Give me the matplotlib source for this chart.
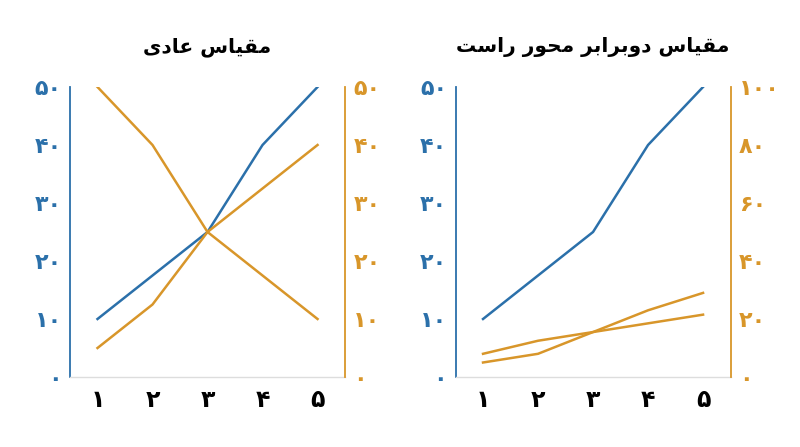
import matplotlib
matplotlib.use("Agg")
import matplotlib.pyplot as plt

x = [1, 2, 3, 4, 5]
blue = [10, 17.5, 25, 40, 50]
orange_down = [50, 40, 25, 17.5, 10]
orange_up = [5, 12.5, 25, 32.5, 40]
# right panel, orange on the 0-100 axis
orange_a = [5, 8, 15.5, 23, 29]
orange_b = [8, 12.5, 15.5, 18.5, 21.5]

left_ticks = [0, 10, 20, 30, 40, 50]
right_ticks_1 = [0, 10, 20, 30, 40, 50]
right_ticks_2 = [0, 20, 40, 60, 80, 100]

title_1 = "مقیاس عادی"
title_2 = "مقیاس دوبرابر محور راست"

BLUE = "#2b70aa"
ORANGE = "#d8962a"

# joined forms (isolated, final, initial, medial); 2-tuples join on the right only
FORMS = {
    "م": ("\uFEE1", "\uFEE2", "\uFEE3", "\uFEE4"),
    "ق": ("\uFED5", "\uFED6", "\uFED7", "\uFED8"),
    "ی": ("\uFBFC", "\uFBFD", "\uFBFE", "\uFBFF"),
    "س": ("\uFEB1", "\uFEB2", "\uFEB3", "\uFEB4"),
    "ع": ("\uFEC9", "\uFECA", "\uFECB", "\uFECC"),
    "ب": ("\uFE8F", "\uFE90", "\uFE91", "\uFE92"),
    "ح": ("\uFEA1", "\uFEA2", "\uFEA3", "\uFEA4"),
    "ت": ("\uFE95", "\uFE96", "\uFE97", "\uFE98"),
    "ا": ("\uFE8D", "\uFE8E"),
    "د": ("\uFEA9", "\uFEAA"),
    "و": ("\uFEED", "\uFEEE"),
    "ر": ("\uFEAD", "\uFEAE"),
}


def shape(text):
    out = []
    for i, ch in enumerate(text):
        if ch not in FORMS:
            out.append(ch)
            continue
        f = FORMS[ch]
        prev = text[i - 1] if i > 0 else " "
        nxt = text[i + 1] if i + 1 < len(text) else " "
        join_prev = prev in FORMS and len(FORMS[prev]) == 4
        join_next = len(f) == 4 and nxt in FORMS
        if join_prev and join_next:
            out.append(f[3])
        elif join_prev:
            out.append(f[1])
        elif join_next:
            out.append(f[2])
        else:
            out.append(f[0])
    return "".join(out)[::-1]


def fa(n):
    return str(n).translate(str.maketrans("0123456789", "۰۱۲۳۴۵۶۷۸۹"))


plt.rcParams["font.family"] = ["DejaVu Sans"]

fig = plt.figure(figsize=(8, 4.47), dpi=100)
panels = [
    (0.0875, title_1, [orange_down, orange_up], (0, 50), right_ticks_1),
    (0.5694, title_2, [orange_a, orange_b], (0, 100), right_ticks_2),
]

for left, title, oranges, rlim, rticks in panels:
    ax = fig.add_axes([left, 0.1566, 0.3438, 0.6488])
    ax2 = ax.twinx()
    ax.plot(x, blue, color=BLUE, lw=1.8, zorder=3)
    for ys in oranges:
        ax2.plot(x, ys, color=ORANGE, lw=1.8)
    ax.set_xlim(0.5, 5.5)
    ax.set_ylim(0, 50)
    ax2.set_ylim(*rlim)
    ax.set_xticks(x)
    ax.set_xticklabels([fa(v) for v in x], fontsize=17, fontweight="bold")
    ax.set_yticks(left_ticks)
    ax.set_yticklabels([fa(v) for v in left_ticks], color=BLUE, fontsize=16, fontweight="bold")
    ax2.set_yticks(rticks)
    ax2.set_yticklabels([fa(v) for v in rticks], color=ORANGE, fontsize=16, fontweight="bold")
    ax.tick_params(axis="y", length=0, pad=6)
    ax.tick_params(axis="x", length=0, pad=8)
    ax2.tick_params(length=0, pad=6)
    for a in (ax, ax2):
        a.spines["top"].set_visible(False)
    ax.spines["right"].set_visible(False)
    ax.spines["left"].set_color(BLUE)
    ax.spines["left"].set_linewidth(1.3)
    ax.spines["bottom"].set_color("#dddddd")
    ax.spines["bottom"].set_linewidth(1.0)
    ax2.spines["left"].set_visible(False)
    ax2.spines["bottom"].set_visible(False)
    ax2.spines["right"].set_color(ORANGE)
    ax2.spines["right"].set_linewidth(1.3)
    ax.set_title(shape(title), fontsize=14.5, fontweight="bold", pad=25)

fig.savefig("out.png", dpi=100)
